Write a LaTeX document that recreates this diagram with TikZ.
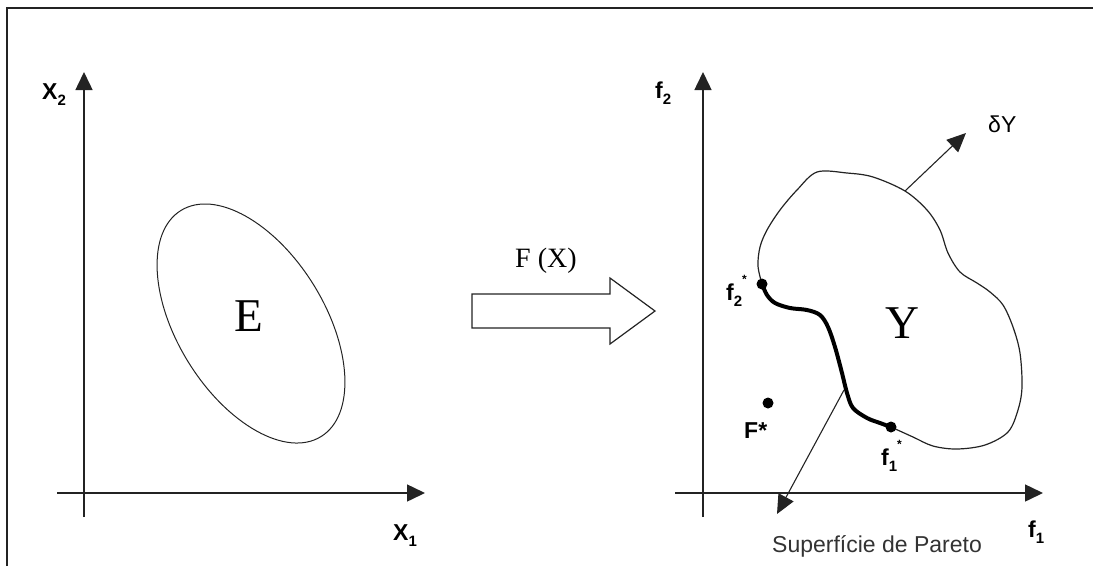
\documentclass[tikz,border=0pt]{standalone}
\usepackage{fontspec}
\setmainfont{Liberation Serif}
\setsansfont{Liberation Sans}
\usetikzlibrary{arrows.meta}
\definecolor{LineGray}{RGB}{35,35,35}
\newcommand{\lowidx}[1]{\raisebox{-0.3em}{\fontsize{15}{15}\selectfont #1}}
\newcommand{\upstar}{\raisebox{0.72em}{\fontsize{12}{12}\selectfont *}}

\begin{document}
\begin{tikzpicture}[x=1pt, y=-1pt,
    axis/.style={draw=LineGray, line width=1.5pt, -{Triangle[length=18pt, width=17pt]}},
    normal/.style={draw=LineGray, line width=1.1pt, -{Triangle[length=19pt, width=17pt]}},
    axlabel/.style={font=\sffamily\bfseries\fontsize{23}{26}\selectfont, inner sep=0pt, anchor=base west},
    setname/.style={font=\rmfamily\fontsize{47}{50}\selectfont, inner sep=0pt},
    dot/.style={circle, fill=black, inner sep=0pt, minimum size=11pt},
    bound/.style={draw=LineGray, line width=1.2pt},
    pareto/.style={draw=black, line width=4pt, line cap=round},
    maparrow/.style={draw=LineGray, fill=white, line width=1.2pt, line join=miter}
]
    \useasboundingbox (0,0) rectangle (1093,566);

    % Frame
    \draw[draw=LineGray, line width=1.2pt] (7,566) -- (7,8) -- (1093,8);

    % Decision space
    \coordinate (x2top) at (84,72);
    \coordinate (x2bot) at (84,517);
    \coordinate (x1left) at (57,493);
    \coordinate (x1right) at (425,493);
    \draw[axis] (x2bot) -- (x2top);
    \draw[axis] (x1left) -- (x1right);
    \node[axlabel] (x2) at (42,99) {X\lowidx{2}};
    \node[axlabel] (x1) at (393,540) {X\lowidx{1}};
    \draw[bound, line width=1pt, rotate around={-58.2:(251,323.5)}] (251,323.5) ellipse [x radius=133pt, y radius=73.6pt];
    \node[setname] (E) at (249,316) {E};

    % Mapping arrow
    \draw[maparrow] (472,294) -- (610,294) -- (610,278) -- (655,311) -- (610,344) -- (610,328) -- (472,328) -- cycle;
    \node[font=\rmfamily\fontsize{28}{30}\selectfont, inner sep=0pt, anchor=base west] (map) at (515,267) {F (X)};

    % Objective space
    \coordinate (f2top) at (703,72);
    \coordinate (f2bot) at (703,517);
    \coordinate (f1left) at (675,493);
    \coordinate (f1right) at (1043,493);
    \draw[axis] (f2bot) -- (f2top);
    \draw[axis] (f1left) -- (f1right);
    \node[axlabel] (f2) at (655,98) {f\lowidx{2}};
    \node[axlabel] (f1) at (1028,537) {f\lowidx{1}};

    % Boundary of Y
    \draw[bound] plot[smooth, tension=0.55] coordinates {(762,284) (758,266) (760,247) (767,230) (780,210) (797,190) (817,172) (847,173) (873,177) (905,191) (927,210) (940,230) (948,253) (960,272) (977,283) (990,292) (1003,305) (1013,327) (1020,353) (1022,387) (1018,410) (1008,432) (985,445) (957,449) (933,446) (913,437) (891,427)};
    \draw[pareto] plot[smooth, tension=0.55] coordinates {(762,284) (767,295) (775,303) (790,308) (807,310) (820,315) (828,327) (835,347) (842,373) (847,393) (853,408) (867,418) (880,423) (891,427)};
    \node[setname] (Y) at (902,323) {Y};

    \node[dot] (f2s) at (762,284) {};
    \node[dot] (f1s) at (891,427) {};
    \node[dot] (Fs) at (768,403) {};
    \node[axlabel] (f2slabel) at (726,300) {f\lowidx{2}\upstar};
    \node[axlabel] (f1slabel) at (881,465) {f\lowidx{1}\upstar};
    \node[axlabel] (Fslabel) at (744,438) {F*};

    % Normals
    \coordinate (dfoot) at (905,191);
    \coordinate (dtip) at (966,133);
    \coordinate (pfoot) at (844,390);
    \coordinate (ptip) at (777,514);
    \draw[normal] (dfoot) -- (dtip);
    \draw[normal] (pfoot) -- (ptip);
    \node[font=\sffamily\fontsize{23}{26}\selectfont, inner sep=0pt, anchor=base west] (dY) at (988,132) {δY};
    \node[font=\sffamily\fontsize{23}{26}\selectfont, inner sep=0pt, anchor=base west, text=black!80] (pareto) at (772,552) {Superfície de Pareto};

\end{tikzpicture}
\end{document}
